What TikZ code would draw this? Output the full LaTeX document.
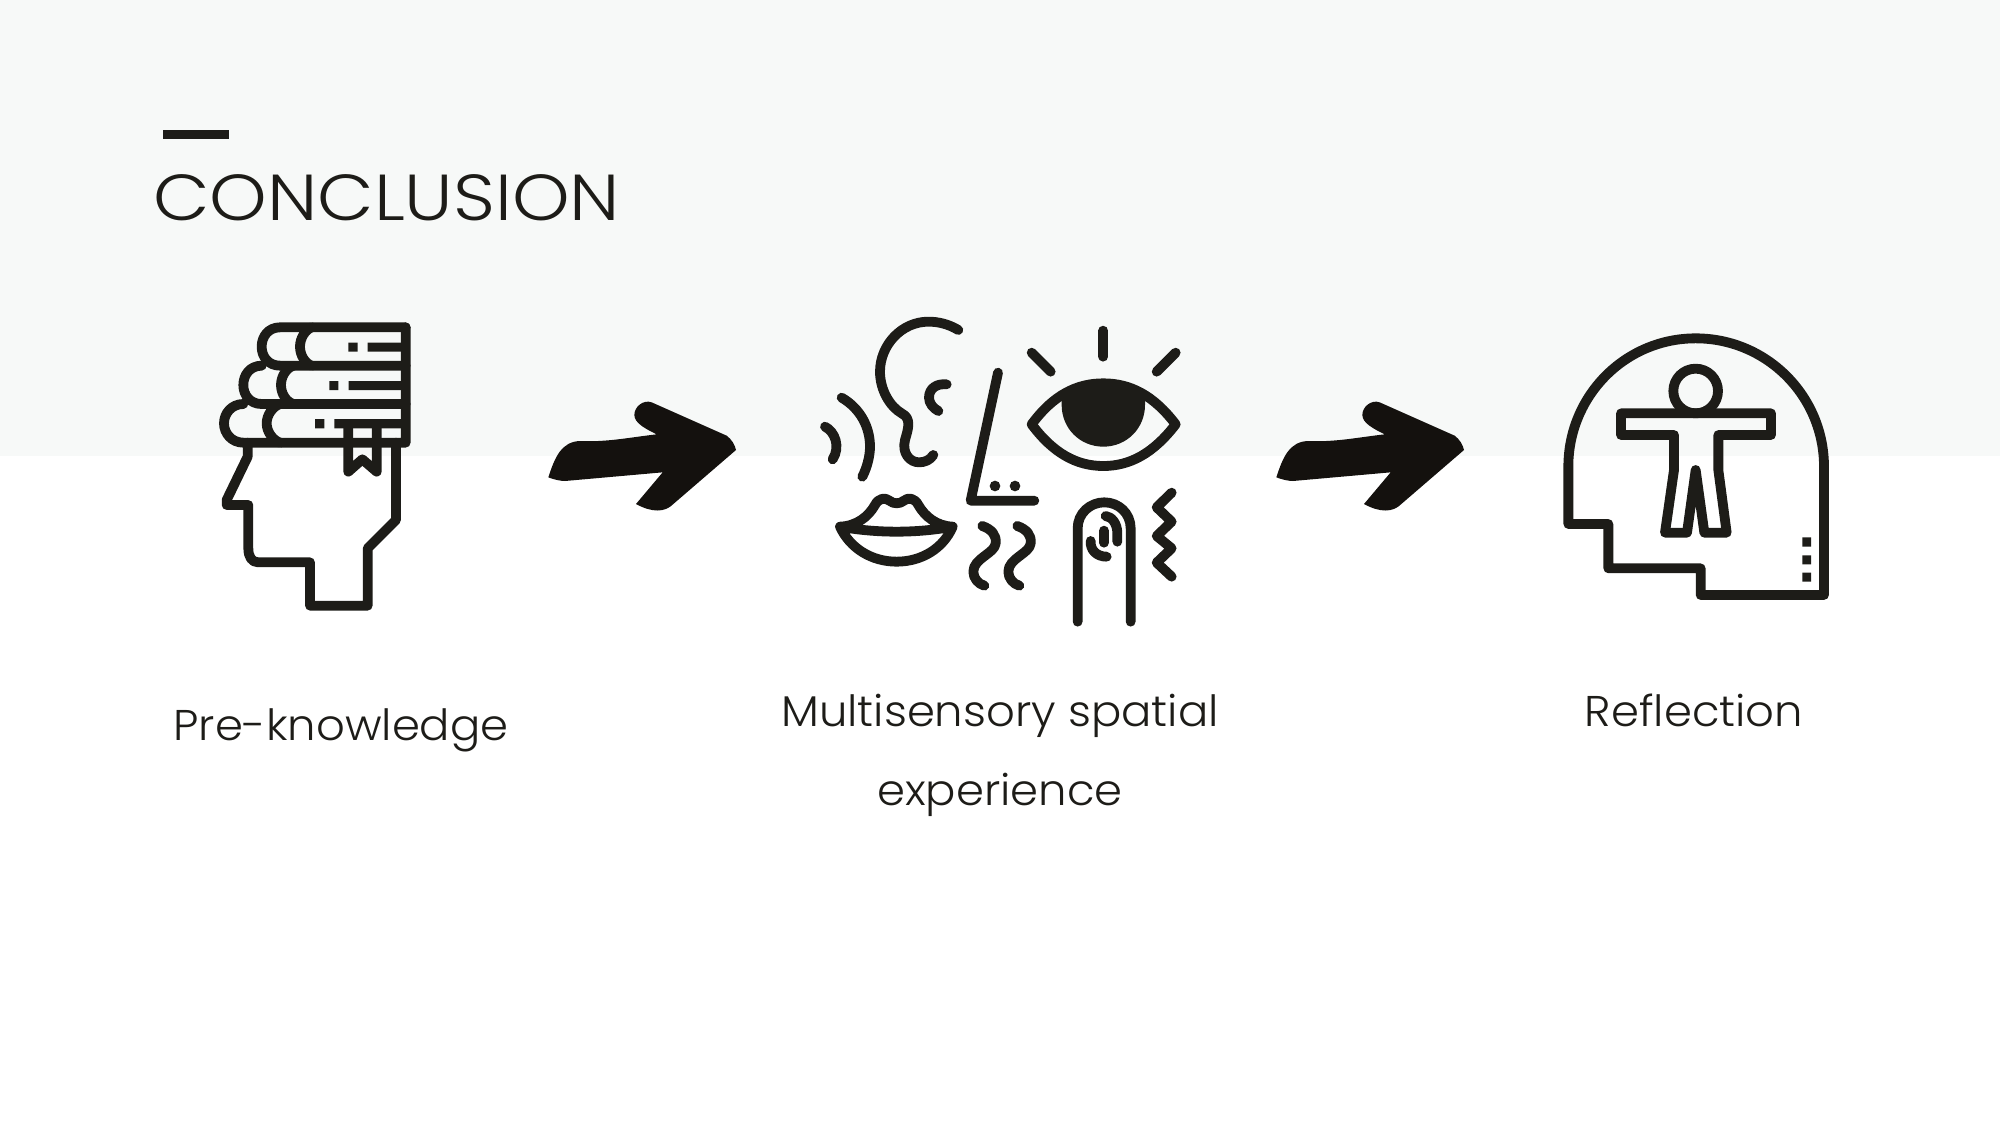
\documentclass[tikz,border=0pt]{standalone}
\usepackage{fontspec}
\newfontfamily\titlefont[FakeStretch=1.127]{Poppins Light}
\newfontfamily\lightfont[FakeStretch=1.045]{Poppins Light}
\definecolor{band}{HTML}{F7F9F8}
\definecolor{ink}{HTML}{1D1C18}
\definecolor{arrowink}{HTML}{14110E}
\tikzset{
  iconline/.style={draw=ink,line width=9.8pt,line cap=round,line join=round},
  zoomed/.style={x=0.33333pt,y=-0.33333pt},
  caption/.style={anchor=base,text=ink,inner sep=0pt,font=\lightfont\fontsize{43}{50}\selectfont},
  bigarrow/.style={fill=arrowink}
}
\begin{document}
\begin{tikzpicture}[x=1pt,y=-1pt]
  \useasboundingbox (0,0) rectangle (2000,1125);
  \fill[white] (0,0) rectangle (2000,1125);
  \fill[band] (0,0) rectangle (2000,456);

  \fill[ink] (163,130) rectangle (229,139);
  \node[anchor=base west,text=ink,inner sep=0pt,font=\titlefont\fontsize{65}{70}\selectfont] (title) at (153,220) {CONCLUSION};

  % head with books
  \begin{scope}[shift={(200,300)},zoomed]
    \draw[iconline] (617,82) -- (240,82) .. controls (205,82) and (185,110) .. (185,140) .. controls (185,170) and (205,197) .. (240,197) -- (617,197);
    \draw[iconline] (335,82) .. controls (315,90) and (300,115) .. (300,140) .. controls (300,165) and (315,190) .. (335,197);
    \draw[iconline] (185,197) .. controls (150,197) and (130,225) .. (130,255) .. controls (130,285) and (150,312) .. (185,312) -- (617,312);
    \draw[iconline] (280,197) .. controls (258,205) and (243,230) .. (243,255) .. controls (243,280) and (258,305) .. (280,312);
    \draw[iconline] (130,312) .. controls (95,312) and (72,340) .. (72,370) .. controls (72,400) and (95,428) .. (130,428) -- (617,428) -- (617,82);
    \draw[iconline] (240,312) .. controls (218,320) and (200,345) .. (200,370) .. controls (200,395) and (218,420) .. (240,428);
    \fill[ink] (445,128) rectangle (473,155) (503,128) rectangle (610,155);
    \fill[ink] (388,243) rectangle (415,270) (446,243) rectangle (610,270);
    \fill[ink] (345,357) rectangle (373,385) (403,357) rectangle (610,385);
    \draw[iconline] (445,375) -- (445,515) -- (487,478) -- (530,515) -- (530,375);
    \draw[iconline] (143,428) -- (143,470) -- (80,600) -- (80,615) -- (145,615) -- (145,745) .. controls (145,770) and (155,787) .. (175,787) -- (330,787) -- (330,917) -- (503,917) -- (503,745) -- (588,660) -- (588,428);
  \end{scope}

  % arrows
  \foreach \arrowx in {530,1258}{
    \fill[bigarrow,shift={(\arrowx,380)},zoomed] (55,292) .. controls (75,230) and (95,185) .. (150,183) .. controls (230,187) and (300,172) .. (380,163) .. controls (350,148) and (313,130) .. (313,105) .. controls (313,80) and (340,58) .. (365,67) -- (590,167) .. controls (605,178) and (615,195) .. (618,210) -- (430,372) .. controls (405,398) and (365,398) .. (318,372) -- (398,277) -- (105,303) .. controls (90,303) and (70,298) .. (55,292) -- cycle;
  }

  % senses
  \begin{scope}[shift={(800,300)},zoomed]
    \draw[iconline] (475,90) .. controls (445,72) and (415,65) .. (385,65) .. controls (305,65) and (240,135) .. (240,215) .. controls (240,270) and (270,320) .. (305,340) .. controls (335,355) and (325,385) .. (315,420) .. controls (305,460) and (330,487) .. (357,487) .. controls (375,487) and (390,480) .. (400,465);
    \draw[iconline] (440,253) .. controls (410,250) and (387,265) .. (387,293) .. controls (387,310) and (400,325) .. (415,333);
    \draw[iconline] (125,293) .. controls (180,325) and (210,380) .. (210,440) .. controls (210,470) and (200,505) .. (187,530);
    \draw[iconline] (75,380) .. controls (105,395) and (122,440) .. (98,478);
    \draw[iconline] (594,218) -- (512,602) -- (703,602);
    \fill[ink] (585,558) circle (16) (645,558) circle (16);
    \draw[iconline] (695,373) .. controls (760,285) and (830,250) .. (910,250) .. controls (990,250) and (1060,285) .. (1127,373) .. controls (1060,460) and (990,498) .. (910,498) .. controls (830,498) and (760,460) .. (695,373) -- cycle;
    \fill[ink] (785,290) .. controls (825,262) and (870,250) .. (910,250) .. controls (950,250) and (995,262) .. (1035,290) -- (1035,315) .. controls (1035,385) and (980,440) .. (910,440) .. controls (840,440) and (785,385) .. (785,315) -- cycle;
    \draw[iconline] (910,92) -- (910,170);
    \draw[iconline] (695,158) -- (752,215);
    \draw[iconline] (1127,158) -- (1070,215);
    \draw[iconline] (120,680) .. controls (170,678) and (205,650) .. (225,615) .. controls (235,595) and (255,590) .. (270,603) .. controls (280,612) and (300,612) .. (310,603) .. controls (325,590) and (345,595) .. (355,615) .. controls (375,650) and (410,678) .. (458,680) .. controls (350,700) and (230,700) .. (120,680) .. controls (150,745) and (215,785) .. (290,785) .. controls (365,785) and (430,745) .. (458,680);
    \foreach \waveshift in {0,105}{
      \draw[iconline,xshift=\waveshift*0.33333pt] (547,678) .. controls (575,688) and (590,705) .. (587,730) .. controls (585,760) and (520,775) .. (520,815) .. controls (520,835) and (535,852) .. (553,857);
    }
    \draw[iconline] (833,965) -- (833,685) .. controls (833,640) and (870,607) .. (913,607) .. controls (956,607) and (992,640) .. (992,685) -- (992,965);
    \draw[iconline] (917,648) .. controls (935,650) and (952,670) .. (952,700) -- (952,725);
    \draw[iconline] (912,692) -- (912,728);
    \draw[iconline] (872,723) .. controls (870,750) and (890,770) .. (920,770);
    \draw[iconline] (1115,578) -- (1070,622) -- (1115,665) -- (1070,708) -- (1115,745) -- (1070,788) -- (1115,830);
  \end{scope}

  % head with figure
  \begin{scope}[shift={(1540,320)},zoomed]
    \draw[iconline] (85,612) -- (85,440) .. controls (85,228) and (255,55) .. (467,55) .. controls (680,55) and (852,228) .. (852,440) -- (852,825) -- (482,825) -- (482,745) -- (205,745) -- (205,612) -- cycle;
    \draw[iconline] (467,213) circle (67);
    \draw[iconline] (243,280) -- (693,280) -- (693,345) -- (535,345) -- (535,450) -- (560,638) -- (493,638) -- (467,450) -- (441,638) -- (375,638) -- (402,450) -- (402,345) -- (243,345) -- cycle;
    \fill[ink] (787,652) rectangle (813,680) (787,706) rectangle (813,733) (787,758) rectangle (813,785);
  \end{scope}

  \node[caption] (knowledge) at (341,740) {Pre-knowledge};
  \node[caption] (sensory) at (1000,726) {Multisensory spatial};
  \node[caption] (sensorytwo) at (1000,805) {experience};
  \node[caption] (reflection) at (1694,726) {Reflection};
\end{tikzpicture}
\end{document}
